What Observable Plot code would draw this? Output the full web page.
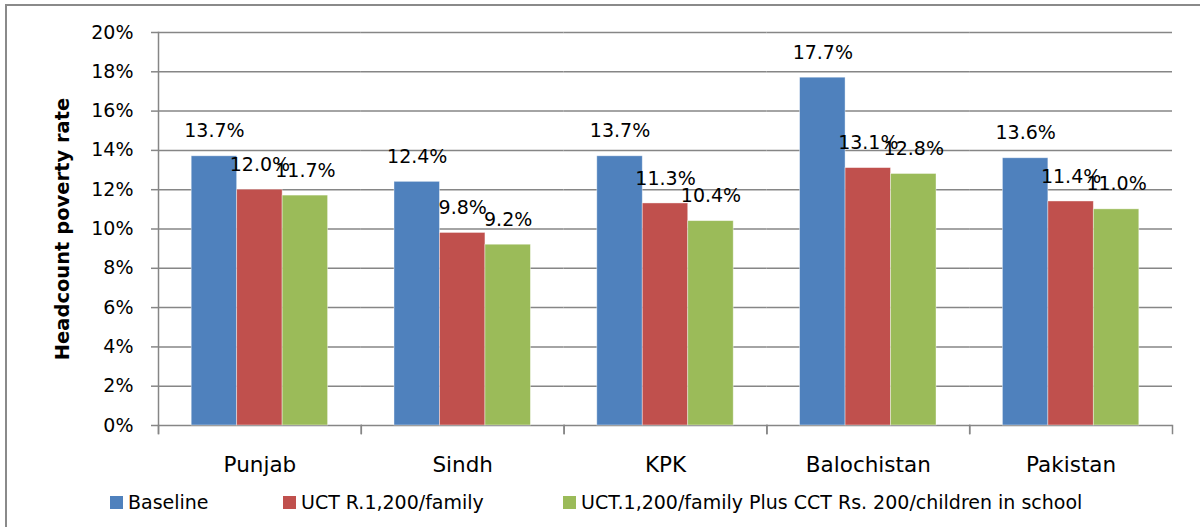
<!DOCTYPE html>
<html>
<head>
<meta charset="utf-8">
<script src="https://cdn.jsdelivr.net/npm/d3@7"></script>
<script src="https://cdn.jsdelivr.net/npm/@observablehq/plot@0.6"></script>
<style>
  body { margin: 0; background: #fff; }
  #wrap { position: relative; width: 1200px; height: 527px; overflow: hidden; font-family: "DejaVu Sans", sans-serif; }
  #border { position: absolute; left: 5px; top: 4px; width: 1210px; height: 560px; border: 2px solid #8a8a8a; box-sizing: border-box; }
  #chart { position: absolute; left: 0; top: 0; }
  #legend { position: absolute; left: 0; top: 490px; width: 1200px; height: 24px; font-size: 19px; color: #000; }
  .item { position: absolute; top: 0; display: flex; align-items: center; height: 24px; white-space: nowrap; }
  .sw { width: 13px; height: 13px; margin-right: 5px; }
</style>
</head>
<body>
<div id="wrap">
  <div id="border"></div>
  <div id="chart"></div>
  <div id="legend"></div>
</div>
<script>
const regions = ["Punjab", "Sindh", "KPK", "Balochistan", "Pakistan"];
const seriesNames = ["Baseline", "UCT R.1,200/family", "UCT.1,200/family Plus CCT Rs. 200/children in school"];
const baseline = [13.7, 12.4, 13.7, 17.7, 13.6];
const uct = [12.0, 9.8, 11.3, 13.1, 11.4];
const uctCct = [11.7, 9.2, 10.4, 12.8, 11.0];
const colors = ["#4F81BD", "#C0504D", "#9BBB59"];
const yTicks = [0, 2, 4, 6, 8, 10, 12, 14, 16, 18, 20];
const yTitle = "Headcount poverty rate";

const seriesValues = [baseline, uct, uctCct];
const rows = regions.flatMap((r, i) =>
  seriesValues.map((arr, j) => ({region: r, series: seriesNames[j], value: arr[i]}))
);

const W = 1200, H = 485, mT = 32, mR = 28, mB = 60, mL = 158;
const plotH = H - mT - mB;
const axisColor = "#868686";

const chart = Plot.plot({
  width: W,
  height: H,
  marginTop: mT,
  marginRight: mR,
  marginBottom: mB,
  marginLeft: mL,
  style: {fontFamily: "DejaVu Sans, sans-serif", fontSize: "19px", color: "#000", background: "transparent", overflow: "visible"},
  fx: {domain: regions, padding: 0, round: false, label: null},
  x: {domain: seriesNames, paddingInner: 0, paddingOuter: 0.73, round: false, axis: null},
  y: {domain: [0, 20], axis: null},
  color: {domain: seriesNames, range: colors},
  marks: [
    Plot.gridY(yTicks, {stroke: axisColor, strokeOpacity: 1, strokeWidth: 1.5}),
    Plot.barY(rows, {fx: "region", x: "series", y: "value", fill: "series", stroke: "#ffffff", strokeOpacity: 0.5, strokeWidth: 0.8}),
    Plot.text(rows, {fx: "region", x: "series", y: "value", text: d => d.value.toFixed(1) + "%", dy: -25, fill: "#000"}),
    Plot.axisY(yTicks, {tickFormat: d => d + "%", tickSize: 7, tickPadding: 18, stroke: axisColor, strokeWidth: 1.5, label: null}),
    Plot.axisFx({anchor: "bottom", tickSize: 0, tickPadding: 31, fontSize: 21.5, label: null}),
    Plot.frame({anchor: "left", facetAnchor: "left", insetBottom: -8, stroke: axisColor, strokeWidth: 1.5}),
    Plot.frame({anchor: "left", insetTop: plotH, insetBottom: -8, stroke: axisColor, strokeWidth: 1.5}),
    Plot.frame({anchor: "right", insetTop: plotH, insetBottom: -8, stroke: axisColor, strokeWidth: 1.5}),
    Plot.text([yTitle], {frameAnchor: "left", textAnchor: "middle", rotate: -90, dx: -96, fontSize: 19.5, fontWeight: "bold", facetAnchor: "left", fill: "#000"})
  ]
});
document.getElementById("chart").appendChild(chart);

const legendLefts = [110, 283, 563];
const legend = document.getElementById("legend");
seriesNames.forEach((s, i) => {
  const item = document.createElement("div");
  item.className = "item";
  item.style.left = legendLefts[i] + "px";
  const sw = document.createElement("div");
  sw.className = "sw";
  sw.style.background = colors[i];
  const t = document.createElement("span");
  t.textContent = s;
  item.appendChild(sw);
  item.appendChild(t);
  legend.appendChild(item);
});
</script>
</body>
</html>
